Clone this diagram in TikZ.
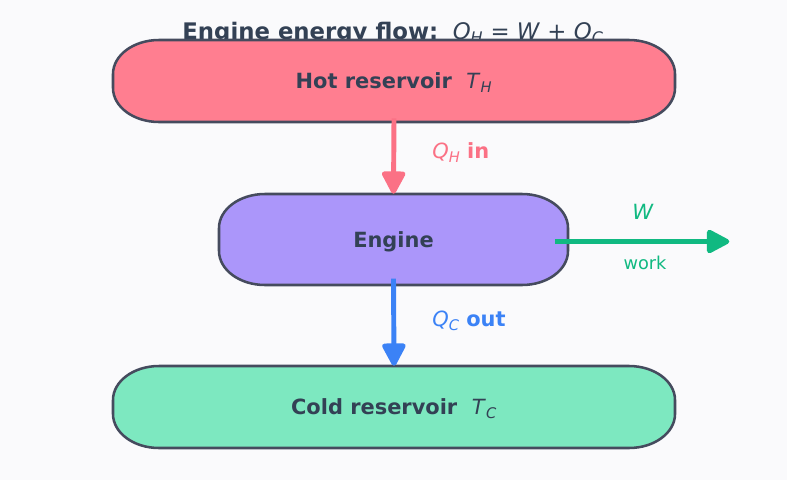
\documentclass[tikz,border=0pt]{standalone}
\usepackage{fontspec}
\setmainfont{DejaVu Sans}
\usetikzlibrary{arrows.meta}
\definecolor{bg}{HTML}{FAFAFC}
\definecolor{ink}{HTML}{334155}
\definecolor{edgec}{HTML}{454B5E}
\definecolor{hotfill}{HTML}{FF7E90}
\definecolor{engfill}{HTML}{AB96FA}
\definecolor{coldfill}{HTML}{7DE8C0}
\definecolor{hotarr}{HTML}{FB7185}
\definecolor{coldarr}{HTML}{3B82F6}
\definecolor{workarr}{HTML}{10B981}
\newcommand\qsub[2]{\textit{#1}\textsubscript{\textit{#2}}}
\newcommand\ebox[7]{%
  \draw[boxline,fill=#6] ({#2+46},#5) -- ({#4-46},#5)
    arc[start angle=90,end angle=0,x radius=46,y radius=34] -- (#4,{#3+34})
    arc[start angle=0,end angle=-90,x radius=46,y radius=34] -- ({#2+46},#3)
    arc[start angle=270,end angle=180,x radius=46,y radius=34] -- (#2,{#5-34})
    arc[start angle=180,end angle=90,x radius=46,y radius=34] -- cycle;
  \node[boxtext,minimum width={(#4-#2)*0.75pt},minimum height={(#5-#3)*0.75pt}]
    (#1) at ({(#2+#4)/2},{(#3+#5)/2-2}) {#7};}
\tikzset{
  boxline/.style={draw=edgec,line width=1.9pt},
  boxtext/.style={inner sep=0pt,text=ink,font=\fontsize{15.7}{18}\selectfont\bfseries},
  flow/.style={line width=3.7pt,-{Triangle[length=19pt,width=19pt,round]}},
  lab/.style={font=\fontsize{15.7}{18}\selectfont,anchor=west,inner sep=0pt},
}
\begin{document}
\begin{tikzpicture}[x=0.75pt,y=0.75pt]
\fill[bg] (0,0) rectangle (787,480);
\useasboundingbox (0,0) rectangle (787,480);
\node[text=ink,font=\fontsize{17.1}{19}\selectfont,inner sep=0pt] (title) at (393,446.5)
  {\textbf{Engine energy flow:}~~\qsub{Q}{H} = \textit{W} + \qsub{Q}{C}};
\ebox{hot}{113}{358}{675}{440}{hotfill}{Hot reservoir~~{\mdseries\qsub{T}{H}}}
\ebox{eng}{219}{195}{568}{286}{engfill}{Engine}
\ebox{cold}{113}{32}{675}{114}{coldfill}{Cold reservoir~~{\mdseries\qsub{T}{C}}}
\coordinate (wend) at ([xshift=120.75pt]eng.east);
\draw[flow,hotarr] ([yshift=4.5pt]hot.south) -- ([yshift=1.5pt]eng.north);
\draw[flow,coldarr] ([yshift=6.5pt]eng.south) -- ([yshift=1.5pt]cold.north);
\draw[flow,workarr] ([xshift=-10pt]eng.east) -- (wend);
\node[lab,text=hotarr] (qh) at (432,327) {\qsub{Q}{H} \textbf{in}};
\node[lab,text=coldarr] (qc) at (432,159) {\qsub{Q}{C} \textbf{out}};
\node[font=\fontsize{15.7}{18}\selectfont,text=workarr,inner sep=0pt] (w) at (643,268) {\textit{W}};
\node[font=\fontsize{13.3}{15}\selectfont,text=workarr,inner sep=0pt] (work) at (645,217) {work};
\end{tikzpicture}
\end{document}
